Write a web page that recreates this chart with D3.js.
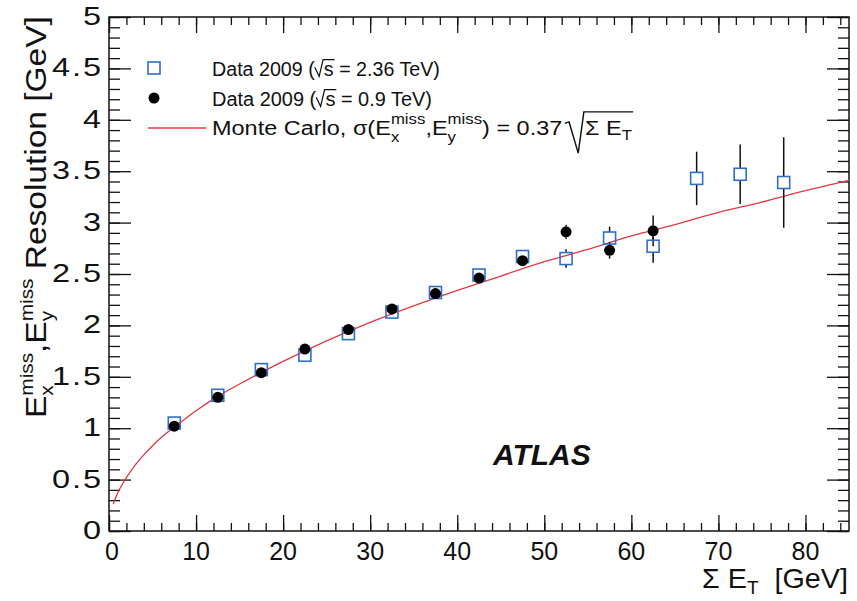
<!DOCTYPE html>
<html><head><meta charset="utf-8">
<script src="https://cdn.jsdelivr.net/npm/d3@7"></script>
<style>body{margin:0;background:#fff}svg{display:block;font-family:"Liberation Sans",Arial,Helvetica,sans-serif}</style>
</head><body><svg id="c" width="857" height="601"></svg>
<script>
// ---- data ----
const xHigh = [7.5,12.5,17.5,22.5,27.5,32.5,37.5,42.5,47.5,52.5,57.5,62.5,67.5,72.5,77.5];
const yHigh = [1.05,1.32,1.57,1.71,1.92,2.13,2.32,2.49,2.67,2.65,2.85,2.77,3.43,3.47,3.39];
const eHigh = [0.02,0.02,0.02,0.03,0.03,0.03,0.04,0.05,0.06,0.09,0.11,0.16,0.26,0.29,0.44];
const xLow = [7.5,12.5,17.5,22.5,27.5,32.5,37.5,42.5,47.5,52.5,57.5,62.5];
const yLow = [1.02,1.30,1.54,1.77,1.96,2.16,2.31,2.46,2.63,2.91,2.73,2.92];
const eLow = [0.01,0.01,0.02,0.02,0.02,0.03,0.03,0.04,0.05,0.07,0.08,0.15];
const mcX = [0.5,0.75,1,1.5,2,3,4,5,6,7.5,10,12.5,15,20,25,30,35,40,45,50,55,60,65,70,75,80,85];
const mcY = [0.26,0.32,0.37,0.45,0.52,0.64,0.74,0.83,0.91,1.01,1.17,1.31,1.43,1.65,1.85,2.03,2.19,2.34,2.48,2.62,2.74,2.87,2.98,3.10,3.20,3.31,3.41];
const xTicks = [0,10,20,30,40,50,60,70,80];
const yTicks = [0,0.5,1,1.5,2,2.5,3,3.5,4,4.5,5];
const yTickLabels = ["0","0.5","1","1.5","2","2.5","3","3.5","4","4.5","5"];

const svg = d3.select("#c");
svg.append("rect").attr("width",857).attr("height",601).attr("fill","#fff");
const x = d3.scaleLinear([0,85],[109,849]);
const y = d3.scaleLinear([0,5],[531,17]);
const BLUE = "#2f6fcc", RED = "#e0393e", INK = "#111";

// ---- axes (ROOT style, ticks on all four sides) ----
function tickAxis(axisGen, scale, major, minor, majorLen, minorLen, tr) {
  const g = svg.append("g").attr("transform", tr);
  g.call(axisGen(scale).tickValues(minor).tickSize(minorLen).tickFormat(""));
  const g2 = svg.append("g").attr("transform", tr);
  g2.call(axisGen(scale).tickValues(major).tickSize(majorLen).tickFormat(""));
  [g,g2].forEach(gg=>{gg.select(".domain").remove(); gg.selectAll("line").attr("stroke",INK).attr("stroke-width",1.3);});
}
const xMinor = d3.range(0,85,2), yMinor = d3.range(0,5.01,0.1).map(v=>+v.toFixed(2));
tickAxis(d3.axisTop, x, xTicks, xMinor, 16, 8, "translate(0,531)");
tickAxis(d3.axisBottom, x, xTicks, xMinor, 16, 8, "translate(0,17)");
tickAxis(d3.axisRight, y, yTicks, yMinor, 22, 11, "translate(109,0)");
tickAxis(d3.axisLeft, y, yTicks, yMinor, 22, 11, "translate(849,0)");
svg.append("rect").attr("x",109).attr("y",17).attr("width",740).attr("height",514)
  .attr("fill","none").attr("stroke",INK).attr("stroke-width",1.5);

// tick labels
svg.append("g").selectAll("text").data(xTicks).join("text")
  .attr("x",d=>x(d) + (d===0 ? 3 : 0)).attr("y",560).attr("text-anchor","middle")
  .attr("font-size",25).attr("fill",INK).text(d=>d);
svg.append("g").attr("transform","translate(101,0) scale(1.3,1)")
  .selectAll("text").data(yTicks).join("text")
  .attr("x",1.5).attr("y",d=>y(d)+8).attr("text-anchor","end")
  .attr("font-size",25).attr("letter-spacing",1.5).attr("fill",INK).text((d,i)=>yTickLabels[i]);

// ---- rich text helper ----
function rich(g, x0, b, parts) {
  let cx = x0;
  const put = (t, size, dy) => {
    const el = g.append("text").attr("x",cx).attr("y",b+(dy||0)).attr("font-size",size)
      .attr("fill",INK).style("white-space","pre").text(t);
    return el.node().getComputedTextLength();
  };
  let over = null;
  parts.forEach(p => {
    if (p.stack) {
      const w1 = put(p.stack[0].t, p.stack[0].size, p.stack[0].dy);
      const w2 = put(p.stack[1].t, p.stack[1].size, p.stack[1].dy);
      cx += Math.max(w1,w2);
    } else if (p.radical) {
      const s = p.radical;
      let d, w;
      if (p.kind === "small") { d = [[0,-0.42*s],[0.22*s,0.02*s],[0.42*s,-0.78*s]]; w = 0.46*s; }
      else { d = [[0,-0.55*s],[0.18*s,-0.62*s],[0.57*s,0.86*s],[0.81*s,-1.1*s]]; w = 0.86*s; }
      over = d.map(q=>[cx+q[0], b+q[1]]);
      cx += w;
    } else {
      cx += put(p.t, p.size, p.dy);
    }
    if (p.closeOver && over) {
      const pts = over.concat([[cx+1, over[over.length-1][1]]]);
      g.append("path").attr("d", d3.line()(pts)).attr("fill","none").attr("stroke",INK).attr("stroke-width",1.3);
      over = null;
    }
  });
  return cx - x0;
}
// render rich text, then stretch it along its direction to a target length
function fitRich(parts, target, place) {
  const g = svg.append("g");
  const inner = g.append("g");
  const w = rich(inner, 0, 0, parts);
  inner.attr("transform", `scale(${target / w},1)`);
  g.attr("transform", place(target));
  return g;
}

// ---- y title ----
fitRich([
  {t:"E", size:29},
  {stack:[{t:"miss", size:18, dy:-13},{t:"x", size:18, dy:7}]},
  {t:",", size:29},
  {t:"E", size:29},
  {stack:[{t:"miss", size:18, dy:-13},{t:"y", size:18, dy:7}]},
  {t:" Resolution [GeV]", size:29}
], 402, L => `translate(46,${217 + L/2}) rotate(-90)`);

// ---- x title ----
fitRich([
  {t:"\u03A3 E", size:27},
  {t:"T", size:18, dy:6},
  {t:"  [GeV]", size:27}
], 146, L => `translate(${848 - L},588)`);

// ---- MC curve ----
svg.append("path").datum(mcX.map((v,i)=>[v,mcY[i]]))
  .attr("d", d3.line().x(d=>x(d[0])).y(d=>y(d[1])).curve(d3.curveMonotoneX))
  .attr("fill","none").attr("stroke",RED).attr("stroke-width",1.3);

// ---- error bars + markers ----
const HS = 6, CR = 5.5;
function errBars(xs, ys, es, gap) {
  const g = svg.append("g").attr("stroke",INK).attr("stroke-width",1.5);
  xs.forEach((xv,i)=>{
    const cx = x(xv), cy = y(ys[i]), top = y(ys[i]+es[i]), bot = y(ys[i]-es[i]);
    if (cy - top > gap) g.append("line").attr("x1",cx).attr("x2",cx).attr("y1",top).attr("y2",cy-gap);
    if (bot - cy > gap) g.append("line").attr("x1",cx).attr("x2",cx).attr("y1",cy+gap).attr("y2",bot);
  });
}
errBars(xHigh, yHigh, eHigh, HS);
errBars(xLow, yLow, eLow, CR);
svg.append("g").selectAll("rect").data(xHigh).join("rect")
  .attr("x",(d)=>x(d)-HS).attr("y",(d,i)=>y(yHigh[i])-HS).attr("width",2*HS).attr("height",2*HS)
  .attr("fill","none").attr("stroke",BLUE).attr("stroke-width",1.6);
svg.append("g").selectAll("circle").data(xLow).join("circle")
  .attr("cx",d=>x(d)).attr("cy",(d,i)=>y(yLow[i])).attr("r",CR).attr("fill","#000");

// ---- legend ----
{
  const g = svg.append("g");
  g.append("rect").attr("x",154-HS).attr("y",68-HS).attr("width",2*HS).attr("height",2*HS)
    .attr("fill","none").attr("stroke",BLUE).attr("stroke-width",1.6);
  g.append("circle").attr("cx",154).attr("cy",98).attr("r",CR).attr("fill","#000");
  g.append("line").attr("x1",148).attr("x2",206).attr("y1",128).attr("y2",128)
    .attr("stroke",RED).attr("stroke-width",1.6);
  const F = 21, f = 15;
  fitRich([
    {t:"Data 2009 (", size:F},
    {radical:F, kind:"small"},
    {t:"s", size:F, closeOver:true},
    {t:" = 2.36 TeV)", size:F}
  ], 228, () => "translate(212,76)");
  fitRich([
    {t:"Data 2009 (", size:F},
    {radical:F, kind:"small"},
    {t:"s", size:F, closeOver:true},
    {t:" = 0.9 TeV)", size:F}
  ], 220, () => "translate(212,106)");
  fitRich([
    {t:"Monte Carlo, \u03C3(E", size:F},
    {stack:[{t:"miss", size:f, dy:-11},{t:"x", size:f, dy:7}]},
    {t:",E", size:F},
    {stack:[{t:"miss", size:f, dy:-11},{t:"y", size:f, dy:7}]},
    {t:") = 0.37", size:F},
    {t:" ", size:8},
    {radical:F, kind:"big"},
    {t:"\u03A3 E", size:F},
    {t:"T", size:f, dy:5, closeOver:true}
  ], 420, () => "translate(212,135)");
}

// ---- ATLAS label ----
svg.append("text").attr("x",493).attr("y",465).attr("font-size",30)
  .attr("font-weight","bold").attr("font-style","italic").attr("fill",INK).text("ATLAS");
</script></body></html>
